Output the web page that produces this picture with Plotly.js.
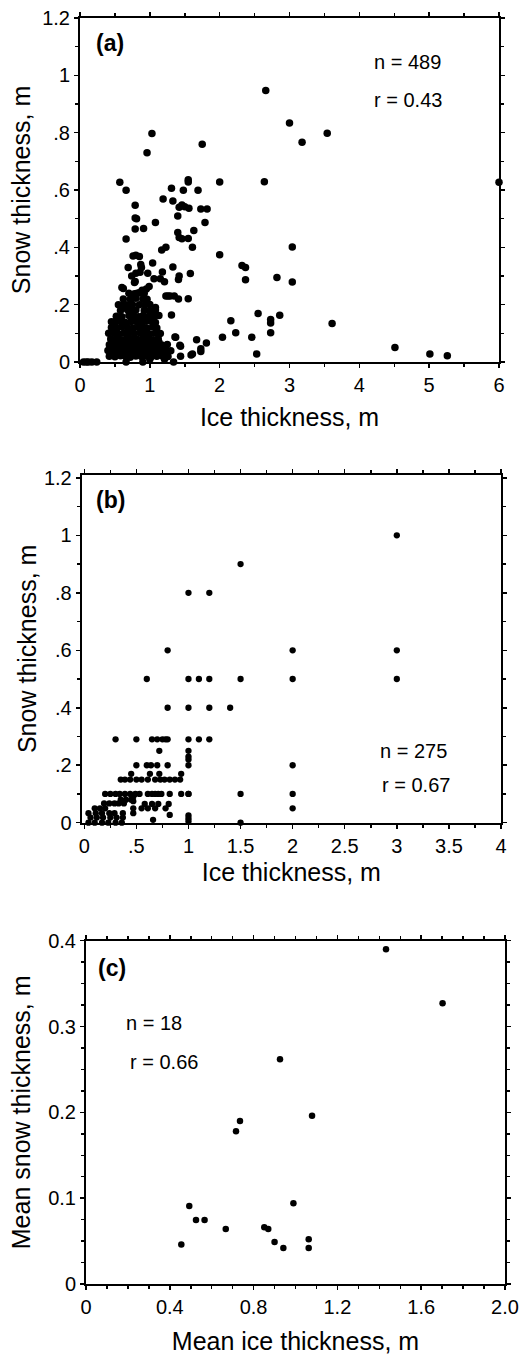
<!DOCTYPE html>
<html>
<head>
<meta charset="utf-8">
<script src="https://cdn.plot.ly/plotly-3.0.1.min.js"></script>
<style>html,body{margin:0;padding:0;background:#fff;}#chart{width:521px;height:1355px;}</style>
</head>
<body>
<div id="chart"></div>
<script>
// ---------- Panel (a): individual measurements, n = 489 ----------
const aIce = [
  2.66,3.00,3.18,3.54,1.03,0.96,1.75,0.57,0.66,2.00,2.64,6.00,1.31,1.19,1.33,1.55,1.55,1.48,1.69,1.73,1.82,1.79,1.63,1.55,1.61,1.58,1.55,
  1.42,1.46,1.50,1.56,1.40,1.40,1.42,1.46,1.17,1.23,1.08,0.79,0.79,0.81,0.79,0.91,0.66,1.04,0.69,0.76,0.80,0.85,0.87,0.88,0.80,0.86,0.97,
  0.79,0.62,1.06,1.15,1.21,1.18,1.33,1.42,1.41,1.23,1.29,1.35,1.41,1.31,2.00,2.32,2.37,2.37,2.82,3.04,3.04,2.55,2.16,2.86,2.73,2.73,2.73,
  2.23,2.04,2.46,2.53,3.61,4.51,5.01,5.26,1.67,1.81,1.73,1.73,1.61,1.43,1.44,1.34,1.37,0.09,0.17,0.24,0.12,0.05,
  0.78,0.99,0.89,0.95,0.61,0.73,1.26,1.36,1.02,1.08,1.00,0.45,0.50,1.59,1.44,
  0.42,0.50,0.58,0.65,0.72,0.80,0.88,0.95,1.02,1.10,1.18,1.26,
  0.46,0.54,0.61,0.69,0.76,0.84,0.91,0.99,1.06,1.14,1.22,
  0.40,0.47,0.55,0.62,0.70,0.77,0.85,0.92,1.00,1.07,1.15,1.22,1.30,
  0.44,0.51,0.59,0.66,0.74,0.81,0.89,0.96,1.04,1.11,1.19,
  0.42,0.50,0.57,0.64,0.72,0.79,0.87,0.94,1.02,1.09,1.17,1.25,
  0.46,0.53,0.61,0.68,0.76,0.83,0.91,0.98,1.06,1.13,
  0.44,0.52,0.60,0.67,0.75,0.82,0.90,0.97,1.05,1.12,
  0.41,0.48,0.55,0.63,0.70,0.78,0.86,0.93,1.00,1.08,1.15,
  0.45,0.53,0.60,0.68,0.76,0.84,0.91,0.96,1.04,1.10,
  0.50,0.57,0.65,0.73,0.81,0.88,0.95,1.03,1.08,
  0.52,0.60,0.70,0.78,0.84,0.90,0.98,1.06,1.13,
  0.58,0.68,0.74,0.80,0.92,1.00,1.08,
  0.55,0.63,0.70,0.75,0.85,0.93,1.00,
  0.62,0.72,0.80,0.90,0.96,
  0.70,0.78,0.85,0.92,
  0.66,0.90,1.00,0.60,0.82,0.74,0.54,0.47,1.14,1.21
];
const aSnow = [
  0.947,0.834,0.767,0.798,0.797,0.730,0.760,0.627,0.599,0.628,0.629,0.627,0.606,0.569,0.562,0.636,0.628,0.599,0.599,0.534,0.534,0.487,0.459,0.431,0.400,0.309,0.221,
  0.540,0.548,0.542,0.536,0.509,0.452,0.434,0.430,0.391,0.400,0.487,0.547,0.502,0.500,0.464,0.466,0.429,0.345,0.330,0.370,0.372,0.368,0.340,0.330,0.310,0.313,0.310,
  0.281,0.256,0.290,0.290,0.280,0.314,0.331,0.300,0.288,0.230,0.230,0.230,0.220,0.164,0.374,0.337,0.330,0.287,0.295,0.401,0.279,0.169,0.144,0.163,0.148,0.136,0.102,
  0.102,0.086,0.086,0.028,0.134,0.051,0.028,0.022,0.078,0.066,0.046,0.037,0.028,0.058,0.020,0.000,0.086,0.000,0.000,0.000,0.000,0.000,
  0.277,0.263,0.250,0.255,0.195,0.220,0.230,0.087,0.170,0.190,0.160,0.140,0.130,0.024,0.055,
  0.020,0.018,0.022,0.020,0.017,0.021,0.019,0.022,0.018,0.020,0.021,0.019,
  0.030,0.031,0.029,0.030,0.031,0.029,0.030,0.031,0.029,0.030,0.031,
  0.040,0.042,0.038,0.041,0.040,0.043,0.039,0.040,0.042,0.038,0.041,0.040,0.039,
  0.050,0.051,0.049,0.050,0.051,0.049,0.050,0.051,0.049,0.050,0.051,
  0.060,0.058,0.062,0.060,0.059,0.061,0.060,0.058,0.062,0.060,0.059,0.061,
  0.070,0.071,0.069,0.070,0.071,0.069,0.070,0.071,0.069,0.070,
  0.080,0.082,0.078,0.081,0.080,0.079,0.082,0.080,0.078,0.081,
  0.100,0.102,0.098,0.101,0.100,0.099,0.102,0.100,0.098,0.101,0.099,
  0.120,0.118,0.122,0.120,0.119,0.121,0.120,0.118,0.122,0.119,
  0.140,0.142,0.138,0.141,0.140,0.139,0.142,0.140,0.138,
  0.160,0.158,0.162,0.160,0.158,0.161,0.159,0.160,0.162,
  0.180,0.182,0.178,0.181,0.180,0.179,0.181,
  0.200,0.202,0.198,0.201,0.200,0.199,0.201,
  0.220,0.218,0.222,0.220,0.219,
  0.240,0.238,0.242,0.240,
  0.000,0.000,0.010,0.260,0.240,0.300,0.090,0.110,0.030,0.010
];

// ---------- Panel (b): n = 275 ----------
const bIce = [
  3.0,3.0,3.0,1.5,1.0,1.2,0.8,0.6,1.0,1.1,1.2,1.5,2.0,2.0,0.8,1.0,1.2,1.4,
  0.3,0.5,0.65,0.7,0.75,0.78,0.8,1.0,1.1,1.2,
  0.72,1.0,1.0,1.0,1.0,2.0,2.0,2.0,1.5,1.5,1.0,1.0,1.0,1.0,0.82,0.66,
  0.5,0.6,0.64,0.7,0.8,
  0.45,0.63,0.72,0.93,
  0.35,0.39,0.44,0.50,0.55,0.61,0.68,0.73,0.77,0.82,0.87,0.92,
  0.20,0.25,0.30,0.34,0.39,0.44,0.49,0.53,0.61,0.65,0.68,0.71,0.74,0.82,0.93,1.0,
  0.35,0.40,0.45,
  0.19,0.24,0.29,0.33,0.38,0.58,0.65,0.71,0.81,
  0.10,0.15,0.20,0.47,0.55,0.61,0.68,0.78,
  0.04,0.11,0.17,0.24,0.29,0.37,0.47,
  0.06,0.12,0.18,0.25,0.31,0.37,
  0.04,0.10,0.17,0.23,0.30,0.36,
  0.47,0.47
];
const bSnow = [
  1.0,0.6,0.5,0.9,0.8,0.8,0.6,0.5,0.5,0.5,0.5,0.5,0.6,0.5,0.4,0.4,0.4,0.4,
  0.29,0.29,0.29,0.29,0.29,0.29,0.29,0.29,0.29,0.29,
  0.25,0.25,0.23,0.22,0.20,0.20,0.10,0.05,0.10,0.0,0.10,0.025,0.015,0.005,0.027,0.01,
  0.20,0.20,0.20,0.20,0.20,
  0.17,0.17,0.17,0.17,
  0.15,0.15,0.15,0.15,0.15,0.15,0.15,0.15,0.15,0.15,0.15,0.15,
  0.10,0.10,0.10,0.10,0.10,0.10,0.10,0.10,0.10,0.10,0.10,0.10,0.10,0.10,0.10,0.10,
  0.08,0.08,0.08,
  0.067,0.067,0.067,0.067,0.067,0.065,0.065,0.065,0.065,
  0.05,0.05,0.05,0.05,0.05,0.05,0.05,0.05,
  0.033,0.033,0.033,0.033,0.033,0.033,0.033,
  0.018,0.018,0.018,0.018,0.018,0.018,
  0.0,0.0,0.0,0.0,0.0,0.0,
  0.075,0.09
];

// ---------- Panel (c): means, n = 18 ----------
const cIce  = [1.432,1.702,0.926,0.716,0.735,1.079,0.990,0.493,0.525,0.566,0.667,0.851,0.870,0.900,0.942,1.063,1.063,0.455];
const cSnow = [0.390,0.327,0.262,0.178,0.190,0.196,0.094,0.091,0.0745,0.0745,0.064,0.066,0.064,0.049,0.042,0.052,0.042,0.046];

// ---------- Tick labels ----------
const aXTickVals = [0,1,2,3,4,5,6];
const aXTickText = ['0','1','2','3','4','5','6'];
const abYTickVals = [0,0.2,0.4,0.6,0.8,1.0,1.2];
const abYTickText = ['0','.2','.4','.6','.8','1','1.2'];
const bXTickVals = [0,0.5,1,1.5,2,2.5,3,3.5,4];
const bXTickText = ['0','.5','1','1.5','2','2.5','3','3.5','4'];
const cXTickVals = [0,0.4,0.8,1.2,1.6,2.0];
const cXTickText = ['0','0.4','0.8','1.2','1.6','2.0'];
const cYTickVals = [0,0.1,0.2,0.3,0.4];
const cYTickText = ['0','0.1','0.2','0.3','0.4'];

const W = 521, H = 1355;
const FONT = '"Liberation Sans", Arial, Helvetica, sans-serif';
const px = v => v / W;
const py = v => 1 - v / H;

function axis(dom, range, tv, tt, minorDt, title, standoff, anchor) {
  return {
    domain: dom, range: range, anchor: anchor,
    tickmode: 'array', tickvals: tv, ticktext: tt,
    ticks: 'outside', ticklen: 4, tickwidth: 1.5, tickcolor: '#000',
    minor: {dtick: minorDt, tick0: 0, ticks: 'outside', ticklen: 3, tickwidth: 1.5, tickcolor: '#000'},
    showline: true, linewidth: 2, linecolor: '#000', mirror: 'ticks',
    showgrid: false, zeroline: false,
    tickfont: {family: FONT, size: 20, color: '#000'},
    title: {text: title, font: {family: FONT, size: 25, color: '#000'}, standoff: standoff},
    automargin: false
  };
}

const mk = s => ({color: '#000', size: s, line: {width: 0}});
const data = [
  {x: aIce, y: aSnow, xaxis: 'x', yaxis: 'y', type: 'scatter', mode: 'markers', marker: mk(7.5), cliponaxis: false, hoverinfo: 'x+y'},
  {x: bIce, y: bSnow, xaxis: 'x2', yaxis: 'y2', type: 'scatter', mode: 'markers', marker: mk(6.3), cliponaxis: false, hoverinfo: 'x+y'},
  {x: cIce, y: cSnow, xaxis: 'x3', yaxis: 'y3', type: 'scatter', mode: 'markers', marker: mk(6.5), cliponaxis: false, hoverinfo: 'x+y'}
];

const txt = (x, y, t, size, bold, xanchor) => ({
  xref: 'paper', yref: 'paper', x: px(x), y: py(y), text: bold ? '<b>' + t + '</b>' : t,
  showarrow: false, xanchor: xanchor || 'left', yanchor: 'middle',
  font: {family: FONT, size: size, color: '#000'}
});

const layout = {
  width: W, height: H, margin: {l: 0, r: 0, t: 0, b: 0},
  paper_bgcolor: '#fff', plot_bgcolor: '#fff', showlegend: false,
  font: {family: FONT, color: '#000'},
  xaxis:  axis([px(80), px(499)], [0, 6], aXTickVals, aXTickText, 0.5, 'Ice thickness, m', 13, 'y'),
  yaxis:  axis([py(362), py(18)], [0, 1.2], abYTickVals, abYTickText, 0.1, 'Snow thickness, m', 4, 'x'),
  xaxis2: axis([px(81.7), px(501)], [-0.025, 4], bXTickVals, bXTickText, 0.25, 'Ice thickness, m', 8, 'y2'),
  yaxis2: axis([py(822.7), py(475)], [0, 1.21], abYTickVals, abYTickText, 0.1, 'Snow thickness, m', 0, 'x2'),
  xaxis3: axis([px(86), px(505)], [0, 2.0], cXTickVals, cXTickText, 0.1, 'Mean ice thickness, m', 27, 'y3'),
  yaxis3: axis([py(1284), py(940.7)], [0, 0.4], cYTickVals, cYTickText, 0.025, 'Mean snow thickness, m', 10, 'x3'),
  annotations: [
    txt(94, 43, '(a)', 23, true),
    txt(372, 62, 'n = 489', 20),
    txt(372, 100, 'r = 0.43', 20),
    txt(94, 500, '(b)', 23, true),
    txt(378, 751, 'n = 275', 20),
    txt(380, 785, 'r = 0.67', 20),
    txt(96, 968, '(c)', 23, true),
    txt(124, 1023, 'n = 18', 20),
    txt(128, 1062, 'r = 0.66', 20)
  ]
};

Plotly.newPlot('chart', data, layout, {displayModeBar: false, staticPlot: true});
</script>
</body>
</html>
